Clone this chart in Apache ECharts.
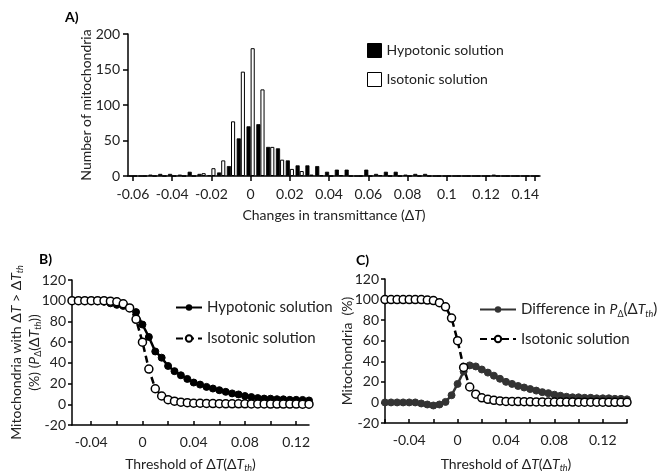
<!DOCTYPE html>
<html><head><meta charset="utf-8">
<script src="https://cdn.jsdelivr.net/npm/echarts@6/dist/echarts.min.js"></script>
<style>html,body{margin:0;padding:0;background:#fff}#c{width:667px;height:475px}</style>
</head><body><div id="c"></div>
<script>
// ---- Panel A: histogram ----
const histBins = ['-0.06','-0.055','-0.05','-0.045','-0.04','-0.035','-0.03','-0.025','-0.02','-0.015','-0.01','-0.005','0','0.005','0.01','0.015','0.02','0.025','0.03','0.035','0.04','0.045','0.05','0.055','0.06','0.065','0.07','0.075','0.08','0.085','0.09','0.095','0.1','0.105','0.11','0.115','0.12','0.125','0.13','0.135','0.14','0.145'];
const histTickLabels = ['-0.06','-0.04','-0.02','0','0.02','0.04','0.06','0.08','0.1','0.12','0.14'];
const hypoCounts = [0,0,2,3,3,2,6,3,1,5,14,53,70,73,41,39,22,15,15,14,6,9,9,0,9,3,6,6,2,3,3,0,0,0,0,0,0,2,0,0,0,0];
const isoCounts  = [0,0,0,0,0,0,0,4,11,22,77,147,180,122,41,23,10,7,2,1,0,1,0,0,0,1,0,0,0,0,0,0,0,0,0,0,0,0,0,0,0,0];
const histYTicks = [0,50,100,150,200];

// ---- Panels B and C: cumulative curves ----
const thresholds = [-0.06,-0.055,-0.05,-0.045,-0.04,-0.035,-0.03,-0.025,-0.02,-0.015,-0.01,-0.005,0,0.005,0.01,0.015,0.02,0.025,0.03,0.035,0.04,0.045,0.05,0.055,0.06,0.065,0.07,0.075,0.08,0.085,0.09,0.095,0.1,0.105,0.11,0.115,0.12,0.125,0.13,0.135,0.14];
const hypoPercent = [100,100,100,100,100,99.6,99,97.5,96,95,93,89,77,65,51,45,37,32,28,24.5,21,19,16.8,15.2,13.6,12,10.5,9.5,8,7,6,5.5,5.4,4.9,4.8,4.3,4.3,4.2,3.7,3.6,3.2];
const isoPercent  = [100,100,100,100,100,100,100,99.5,99,97,93,82,60,34,15,8,4.5,3,2,1.5,1,1,0.8,0.7,0.6,0.5,0.5,0.4,0.4,0.3,0.3,0.3,0.2,0.2,0.2,0.2,0.2,0.1,0.1,0.1,0.1];
const diffPercent = [0,0,0,0,0,0,-1,-2,-3,-2,0.5,7,18,30,36,35,32,29,26,23,20,18,16,14.5,13,11.5,10,9,7.5,6.5,5.5,5,5,4.5,4.5,4,4,4,3.5,3.5,3];
const bcTickLabels = ['-0.04','0','0.04','0.08','0.12'];
const bcMinorTicks = ['-0.06','-0.04','-0.02','0','0.02','0.04','0.06','0.08','0.1','0.12','0.14'];
const bRange = [-0.055, 0.13];
const cRange = [-0.06, 0.14];
const bcYTicks = [-20,0,20,40,60,80,100,120];

const FONT = 'Lato';
const rich = {
  i: {fontStyle: 'italic', fontFamily: FONT, fontSize: 14, color: '#222', lineHeight: 18},
  sub: {fontSize: 9, fontFamily: FONT, color: '#222', lineHeight: 9, verticalAlign: 'bottom'},
  isub: {fontSize: 9, fontStyle: 'italic', fontFamily: FONT, color: '#222', lineHeight: 9, verticalAlign: 'bottom'}
};
const axisLineStyle = {show: true, onZero: false, lineStyle: {color: '#000', width: 1.5}};
const inRange = (r) => (x) => x >= r[0] - 1e-9 && x <= r[1] + 1e-9;
const pairs = (vals, r) => thresholds.map((x, i) => [x, vals[i]]).filter(p => inRange(r)(p[0]));
const tickVals = (r) => bcMinorTicks.map(Number).filter(inRange(r));
const labelVals = (r) => bcTickLabels.map(Number).filter(inRange(r));

function bcXAxis(grid, r, gap) {
  return {gridIndex: grid, type: 'value', min: r[0], max: r[1],
    axisLine: axisLineStyle, splitLine: {show: false},
    axisTick: {show: true, inside: true, length: 4, customValues: tickVals(r), lineStyle: {color: '#000', width: 1.5}},
    axisLabel: {fontSize: 14, color: '#222', fontFamily: FONT, margin: 10, customValues: labelVals(r),
      formatter: function (v) { return String(parseFloat(Number(v).toFixed(3))); }},
    name: 'Threshold of Δ{i|T}(Δ{i|T}{isub|th})', nameLocation: 'middle', nameGap: gap, nameMoveOverlap: false,
    nameTextStyle: {fontSize: 14, fontFamily: FONT, color: '#222', rich: rich}};
}

const chart = echarts.init(document.getElementById('c'), null, {renderer: 'canvas'});
const option = {
  animation: false,
  backgroundColor: '#fff',
  textStyle: {fontFamily: FONT, color: '#222'},
  title: [
    {text: 'A)', left: 60, top: 5, textStyle: {fontSize: 14, fontWeight: 'bold', color: '#000', fontFamily: FONT}},
    {text: 'B)', left: 34, top: 247, textStyle: {fontSize: 14, fontWeight: 'bold', color: '#000', fontFamily: FONT}},
    {text: 'C)', left: 351, top: 248, textStyle: {fontSize: 14, fontWeight: 'bold', color: '#000', fontFamily: FONT}}
  ],
  grid: [
    {left: 128, top: 34, width: 412, height: 142},
    {left: 72, top: 280, width: 237, height: 145},
    {left: 385, top: 279, width: 242, height: 144}
  ],
  legend: [
    {orient: 'vertical', left: 362, top: 38, itemWidth: 14, itemHeight: 14, itemGap: 14,
     textStyle: {fontSize: 14, fontFamily: FONT, color: '#222'},
     data: [
       {name: 'Hypotonic solution', icon: 'rect', itemStyle: {color: '#000', borderColor: '#000', borderWidth: 1}},
       {name: 'Isotonic solution', icon: 'rect', itemStyle: {color: '#fff', borderColor: '#000', borderWidth: 1}}
     ]},
    {orient: 'vertical', left: 170, top: 295, itemWidth: 26, itemHeight: 8, itemGap: 16,
     textStyle: {fontSize: 15, fontFamily: FONT, color: '#222'},
     formatter: function (n) { return n.replace(/ B$/, ''); },
     data: ['Hypotonic solution B', 'Isotonic solution B']},
    {orient: 'vertical', left: 474, top: 297, itemWidth: 36, itemHeight: 8, itemGap: 13,
     textStyle: {fontSize: 15, fontFamily: FONT, color: '#222', rich: rich},
     formatter: function (n) {
       if (n === 'Difference C') return 'Difference in {i|P}{sub|Δ}(Δ{i|T}{isub|th})';
       return 'Isotonic solution';
     },
     data: ['Difference C', 'Isotonic solution C']}
  ],
  xAxis: [
    {gridIndex: 0, type: 'category', data: histBins, boundaryGap: true,
     axisLine: axisLineStyle,
     axisTick: {show: true, interval: 3, alignWithLabel: true, length: 5, lineStyle: {color: '#000', width: 1.5}},
     axisLabel: {interval: 0, fontSize: 14, color: '#222', fontFamily: FONT, margin: 11,
       formatter: function (v) { return histTickLabels.indexOf(v) >= 0 ? v : ''; }},
     name: 'Changes in transmittance (Δ{i|T})', nameLocation: 'middle', nameGap: 30, nameMoveOverlap: false,
     nameTextStyle: {fontSize: 14, fontFamily: FONT, color: '#222', rich: rich}},
    bcXAxis(1, bRange, 30),
    bcXAxis(2, cRange, 32)
  ],
  yAxis: [
    {gridIndex: 0, type: 'value', min: histYTicks[0], max: histYTicks[histYTicks.length - 1], interval: 50,
     axisLine: axisLineStyle, splitLine: {show: false},
     axisTick: {show: true, length: 5, lineStyle: {color: '#000', width: 1.5}},
     axisLabel: {fontSize: 14, color: '#222', fontFamily: FONT, margin: 8},
     name: 'Number of mitochondria', nameLocation: 'middle', nameGap: 35, nameMoveOverlap: false,
     nameTextStyle: {fontSize: 14, fontFamily: FONT, color: '#222'}},
    {gridIndex: 1, type: 'value', min: bcYTicks[0], max: bcYTicks[bcYTicks.length - 1], interval: 20,
     axisLine: axisLineStyle, splitLine: {show: false},
     axisTick: {show: true, length: 4, lineStyle: {color: '#000', width: 1.5}},
     axisLabel: {fontSize: 14, color: '#222', fontFamily: FONT, margin: 6},
     name: 'Mitochondria with Δ{i|T} > Δ{i|T}{isub|th}\n(%) ({i|P}{sub|Δ}(Δ{i|T}{isub|th}))', nameLocation: 'middle', nameGap: 29, nameMoveOverlap: false,
     nameTextStyle: {fontSize: 14, fontFamily: FONT, color: '#222', lineHeight: 18, rich: rich}},
    {gridIndex: 2, type: 'value', min: bcYTicks[0], max: bcYTicks[bcYTicks.length - 1], interval: 20,
     axisLine: axisLineStyle, splitLine: {show: false},
     axisTick: {show: true, length: 4, lineStyle: {color: '#000', width: 1.5}},
     axisLabel: {fontSize: 14, color: '#222', fontFamily: FONT, margin: 6},
     name: 'Mitochondria  (%)', nameLocation: 'middle', nameGap: 31, nameMoveOverlap: false,
     nameTextStyle: {fontSize: 14, fontFamily: FONT, color: '#222'}}
  ],
  series: [
    {name: 'Hypotonic solution', type: 'bar', xAxisIndex: 0, yAxisIndex: 0, data: hypoCounts,
     barGap: '0%', barCategoryGap: '16%', itemStyle: {color: '#000', borderColor: '#000', borderWidth: 0.8}},
    {name: 'Isotonic solution', type: 'bar', xAxisIndex: 0, yAxisIndex: 0, data: isoCounts,
     barGap: '0%', barCategoryGap: '16%', itemStyle: {color: '#fff', borderColor: '#000', borderWidth: 1}},
    {name: 'Hypotonic solution B', type: 'line', xAxisIndex: 1, yAxisIndex: 1,
     data: pairs(hypoPercent, bRange),
     symbol: 'circle', symbolSize: 7, lineStyle: {color: '#000', width: 2.5},
     itemStyle: {color: '#000', borderColor: '#000'}},
    {name: 'Isotonic solution B', type: 'line', xAxisIndex: 1, yAxisIndex: 1,
     data: pairs(isoPercent, bRange),
     symbol: 'circle', symbolSize: 8, lineStyle: {color: '#000', width: 2.5, type: [7, 4]},
     itemStyle: {color: '#fff', borderColor: '#000', borderWidth: 1.5}},
    {name: 'Difference C', type: 'line', xAxisIndex: 2, yAxisIndex: 2,
     data: pairs(diffPercent, cRange),
     symbol: 'circle', symbolSize: 7, lineStyle: {color: '#333', width: 2.5},
     itemStyle: {color: '#333', borderColor: '#333'}},
    {name: 'Isotonic solution C', type: 'line', xAxisIndex: 2, yAxisIndex: 2,
     data: pairs(isoPercent, cRange),
     symbol: 'circle', symbolSize: 8, lineStyle: {color: '#000', width: 2.5, type: [7, 4]},
     itemStyle: {color: '#fff', borderColor: '#000', borderWidth: 1.5}}
  ]
};
chart.setOption(option);
</script></body></html>
